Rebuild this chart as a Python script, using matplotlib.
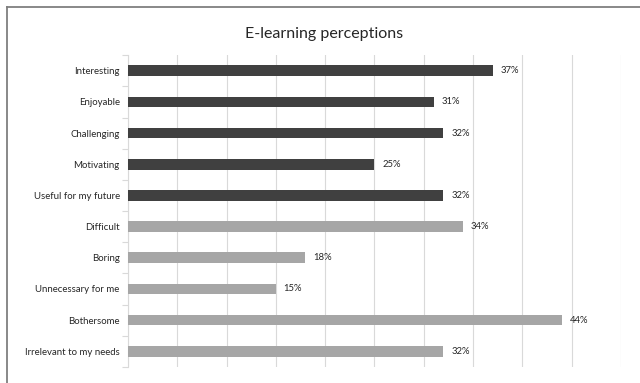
import matplotlib.pyplot as plt
from matplotlib.lines import Line2D
import numpy as np

plt.rcParams['font.family'] = ['Lato', 'DejaVu Sans']

categories = ["Interesting", "Enjoyable", "Challenging", "Motivating",
              "Useful for my future", "Difficult", "Boring",
              "Unnecessary for me", "Bothersome", "Irrelevant to my needs"]
values = [37, 31, 32, 25, 32, 34, 18, 15, 44, 32]
positive = [True, True, True, True, True, False, False, False, False, False]

dark = "#404040"
light = "#a6a6a6"
colors = [dark if p else light for p in positive]

fig = plt.figure(figsize=(6.4, 3.83), dpi=100)
ax = fig.add_axes([0.2, 0.042, 0.77, 0.814])

y = np.arange(len(categories))
ax.barh(y, values, height=0.34, color=colors, zorder=3)

for yi, v in zip(y, values):
    ax.text(v + 0.8, yi, f"{v}%", va="center", ha="left",
            fontsize=6.8, color="#262626")

ax.set_xlim(0, 50)
ax.set_ylim(len(categories) - 0.5, -0.5)
ax.set_xticks(np.arange(0, 51, 5))
ax.tick_params(axis="x", length=0, labelbottom=False)
ax.grid(axis="x", color="#d9d9d9", linewidth=0.8, zorder=0)

# category labels at the bars, tick marks between categories
ax.set_yticks(y)
ax.set_yticklabels(categories, fontsize=6.9, color="#262626")
ax.tick_params(axis="y", which="major", length=0, pad=6)
ax.set_yticks(np.arange(-0.5, len(categories), 1), minor=True)
ax.tick_params(axis="y", which="minor", length=4, color="#d9d9d9", width=0.8)

for side in ["top", "right", "bottom"]:
    ax.spines[side].set_visible(False)
ax.spines["left"].set_color("#d9d9d9")
ax.spines["left"].set_linewidth(0.8)

fig.text(0.506, 0.912, "E-learning perceptions", ha="center", va="center",
         fontsize=11.5, color="#262626")

# chart area frame
fig.add_artist(Line2D([0.0105, 0.0105], [0, 0.9825], transform=fig.transFigure,
                      color="#7f7f7f", linewidth=1.3))
fig.add_artist(Line2D([0.0105, 1], [0.9825, 0.9825], transform=fig.transFigure,
                      color="#7f7f7f", linewidth=1.3))

fig.savefig("out.png", dpi=100)
